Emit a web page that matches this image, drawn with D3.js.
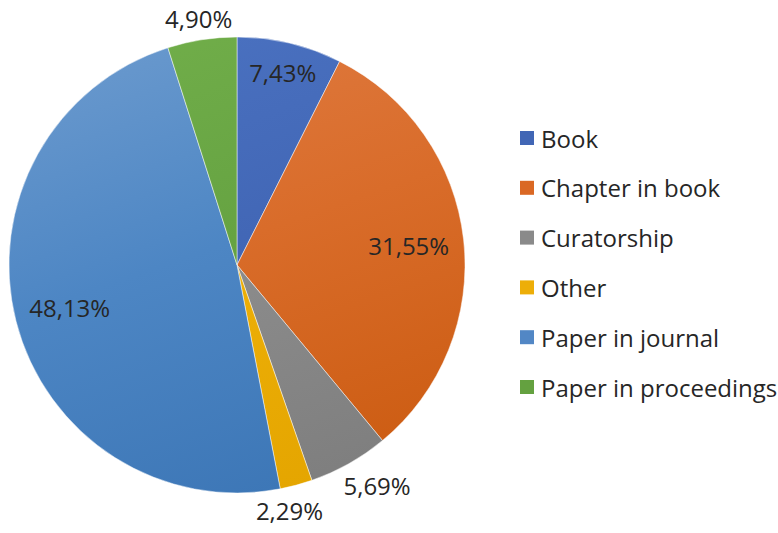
<!DOCTYPE html>
<html>
<head>
<meta charset="utf-8">
<script src="https://cdn.jsdelivr.net/npm/d3@7/dist/d3.min.js"></script>
<style>
  html, body { margin: 0; padding: 0; background: #ffffff; overflow: hidden; }
  svg { display: block; }
  text { font-family: "Open Sans", "Noto Sans", sans-serif; fill: #262626; }
</style>
</head>
<body>
<svg id="chart" width="778" height="533"></svg>
<script>
// Publication types and their share of the total (percent)
const categories = ["Book", "Chapter in book", "Curatorship", "Other", "Paper in journal", "Paper in proceedings"];
const shares = [7.43, 31.55, 5.69, 2.29, 48.13, 4.90];
const shareLabels = ["7,43%", "31,55%", "5,69%", "2,29%", "48,13%", "4,90%"];
// Labels that sit inside their slice (the rest go outside the rim)
const insideLabel = [true, true, false, false, true, false];

// Slice fills: light tone at the top of the pie, deepening downwards
const topColors = ["#4a71c0", "#df7a40", "#9a9a9a", "#f4bc1e", "#6898cd", "#70ad49"];
const midColors = ["#4267b6", "#d96c2a", "#8d8d8d", "#eeb008", "#4d86c4", "#66a342"];
const bottomColors = ["#3759a8", "#cc5c12", "#7e7e7e", "#e4a500", "#3c76b6", "#589632"];
const legendColors = ["#4166b5", "#da6824", "#8a8a8a", "#edae08", "#5287c5", "#64a140"];

const svg = d3.select("#chart");
const cx = 237, cy = 265, R = 228;
const fontSize = 24;

const data = categories.map((c, i) => ({ name: c, value: shares[i], label: shareLabels[i] }));

const pie = d3.pie().value(d => d.value).sort(null);
const arcs = pie(data);
const arc = d3.arc().innerRadius(0).outerRadius(R);

// Gradients are expressed in the pie group's own (centred) coordinates
const defs = svg.append("defs");
data.forEach((d, i) => {
  const grad = defs.append("linearGradient")
    .attr("id", "grad" + i)
    .attr("gradientUnits", "userSpaceOnUse")
    .attr("x1", -R * 0.35).attr("y1", -R)
    .attr("x2", R * 0.35).attr("y2", R);
  grad.append("stop").attr("offset", "0%").attr("stop-color", topColors[i]);
  grad.append("stop").attr("offset", "45%").attr("stop-color", midColors[i]);
  grad.append("stop").attr("offset", "100%").attr("stop-color", bottomColors[i]);
});

const g = svg.append("g").attr("transform", `translate(${cx},${cy})`);

g.selectAll("path.slice")
  .data(arcs)
  .join("path")
  .attr("class", "slice")
  .attr("d", arc)
  .attr("fill", d => `url(#grad${d.index})`)
  .attr("stroke", "#ffffff")
  .attr("stroke-opacity", 0.6)
  .attr("stroke-width", 0.8);

// Data labels: inside labels keep their box clear of the rim,
// outside labels sit just beyond it along the slice's mid angle
const labels = g.selectAll("text.val")
  .data(arcs)
  .join("text")
  .attr("class", "val")
  .attr("font-size", fontSize)
  .attr("text-anchor", "middle")
  .attr("dominant-baseline", "central")
  .text(d => d.data.label);

const h = fontSize * 0.72;
const placed = [];
labels.each(function(d) {
  placed.push({
    node: this,
    inside: insideLabel[d.index],
    angle: (d.startAngle + d.endAngle) / 2,
    w: this.getComputedTextLength()
  });
});

function position(p) {
  const s = Math.sin(p.angle), c = -Math.cos(p.angle);
  const extent = Math.abs(s) * p.w / 2 + Math.abs(c) * h / 2;
  const r = p.inside ? R - extent - 14 : R + extent + 8;
  p.x = s * r; p.y = c * r;
}
placed.forEach(position);

// Spread neighbouring outside labels apart along the rim until they clear
function overlaps(a, b, pad) {
  return Math.abs(a.x - b.x) < (a.w + b.w) / 2 + pad &&
         Math.abs(a.y - b.y) < h + pad;
}
const outside = placed.filter(p => !p.inside);
for (let k = 0; k < outside.length - 1; k++) {
  const a = outside[k], b = outside[k + 1];
  let guard = 0;
  while (overlaps(a, b, 20) && guard++ < 80) {
    a.angle -= Math.PI / 360;
    b.angle += Math.PI / 360;
    position(a); position(b);
  }
}
placed.forEach(p => d3.select(p.node).attr("x", p.x).attr("y", p.y));

// Legend
const legend = svg.append("g").attr("transform", "translate(520,138)");
const rowStep = 49.8;
const rows = legend.selectAll("g.row")
  .data(data)
  .join("g")
  .attr("class", "row")
  .attr("transform", (d, i) => `translate(0,${i * rowStep})`);

rows.append("rect")
  .attr("x", 0).attr("y", -7)
  .attr("width", 14).attr("height", 14)
  .attr("fill", (d, i) => legendColors[i]);

rows.append("text")
  .attr("x", 21)
  .attr("y", 0)
  .attr("dominant-baseline", "central")
  .attr("font-size", fontSize)
  .text(d => d.name);
</script>
</body>
</html>
